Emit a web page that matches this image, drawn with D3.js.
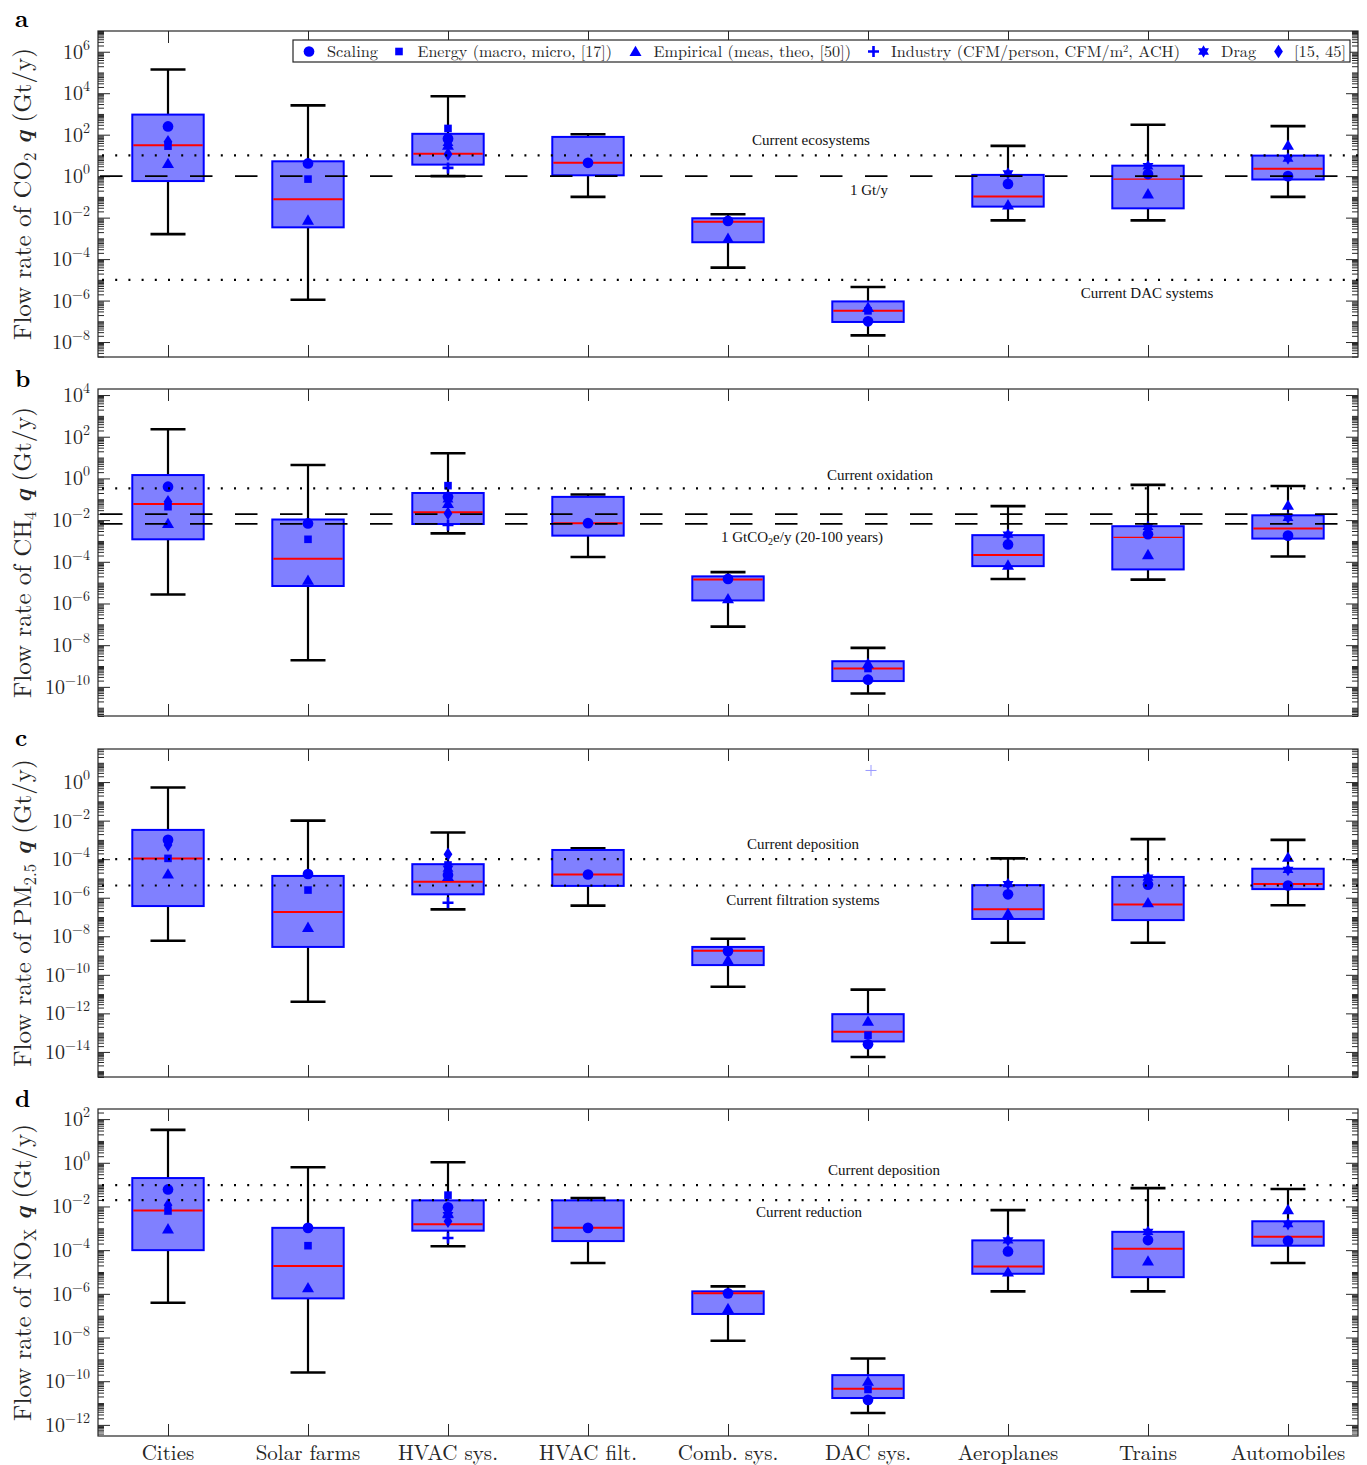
<!DOCTYPE html>
<html><head><meta charset="utf-8">
<script src="https://cdn.jsdelivr.net/npm/d3@7/dist/d3.min.js"></script>
<style>body{margin:0;background:#fff} svg{display:block}</style>
</head><body><svg id="chart" width="1367" height="1465"></svg>
<script>
// ---------------- DATA ----------------
const categories = ["Cities","Solar farms","HVAC sys.","HVAC filt.","Comb. sys.","DAC sys.","Aeroplanes","Trains","Automobiles"];
const methods = ["Scaling","Energy (macro, micro, [17])","Empirical (meas, theo, [50])","Industry (CFM/person, CFM/m\u00B2, ACH)","Drag","[15, 45]"];

// box stats per category: [whisker low, q1, median, q3, whisker high]  (Gt/y)
const co2Box = [
  [1.6e-3, 0.58, 31, 930, 1.4e5],
  [1.1e-6, 3.4e-3, 0.078, 5.2, 2600],
  [1.0, 3.6, 12, 110, 7100],
  [0.10, 1.1, 4.4, 78, 105],
  [3.9e-5, 6.5e-4, 6.3e-3, 9.3e-3, 0.0145],
  [2.1e-8, 9.3e-8, 3.2e-7, 9.1e-7, 4.5e-6],
  [7.4e-3, 0.034, 0.105, 1.15, 29],
  [7.4e-3, 0.028, 0.72, 3.2, 300],
  [0.10, 0.69, 2.3, 9.8, 260]
];
const co2Scaling   = [250, 4.1, 65, 4.4, 6.9e-3, 1.0e-7, 0.42, 1.26, 1.0];
const co2Energy    = [28, 0.72, 200, null, null, 3.2e-7, null, null, null];
const co2Empirical = [4.1, 7.6e-3, 31, null, 1.0e-3, 4.7e-7, 0.041, 0.14, 31];
const co2Industry  = [null, null, 2.5, null, null, null, null, null, null];
const co2Drag      = [null, null, 40, null, null, null, 1.35, 3.0, 7.1];
const co2Lit       = [45, null, 11.5, null, null, null, null, null, null];
const co2RefValues = [10, 1, 1e-5];
const co2RefLabels = ["Current ecosystems", "1 Gt/y", "Current DAC systems"];
const co2Domain = [1.9e-9, 1e7];
const co2TickLabels = [1e-8, 1e-6, 1e-4, 1e-2, 1e0, 1e2, 1e4, 1e6];

const ch4Box = [
  [2.7e-6, 1.2e-3, 0.059, 1.45, 230],
  [1.9e-9, 6.9e-6, 1.4e-4, 0.0107, 4.4],
  [2.3e-3, 6.5e-3, 0.024, 0.20, 16],
  [1.7e-4, 1.8e-3, 7.1e-3, 0.13, 0.17],
  [7.8e-8, 1.4e-6, 1.4e-5, 2.0e-5, 3.2e-5],
  [4.8e-11, 1.9e-10, 7.6e-10, 1.7e-9, 7.4e-9],
  [1.5e-5, 6.2e-5, 2.1e-4, 1.9e-3, 0.047],
  [1.4e-5, 4.3e-5, 1.5e-3, 5.1e-3, 0.49],
  [1.8e-4, 1.3e-3, 4.0e-3, 0.017, 0.43]
];
const ch4Scaling   = [0.40, 6.9e-3, 0.13, 7.1e-3, 1.5e-5, 2.2e-10, 6.8e-4, 2.1e-3, 1.8e-3];
const ch4Energy    = [0.044, 1.2e-3, 0.45, null, null, 7.6e-10, null, null, null];
const ch4Empirical = [6.9e-3, 1.3e-5, 0.063, null, 1.7e-6, 1.3e-9, 6.9e-5, 2.2e-4, 0.052];
const ch4Industry  = [null, null, 5.8e-3, null, null, null, null, null, null];
const ch4Drag      = [null, null, 0.10, null, null, null, 2.0e-3, 4.8e-3, 0.013];
const ch4Lit       = [0.076, null, 0.021, null, null, null, null, null, null];
const ch4RefValues = [0.33, 0.0195, 0.0066];
const ch4RefLabels = ["Current oxidation", "1 GtCO\u2082e/y (20-100 years)"];
const ch4Domain = [4.0e-12, 1.95e4];
const ch4TickLabels = [1e-10, 1e-8, 1e-6, 1e-4, 1e-2, 1e0, 1e2, 1e4];

const pmBox = [
  [5.9e-9, 3.7e-7, 1.1e-4, 3.3e-3, 0.52],
  [4.0e-12, 2.8e-9, 1.8e-7, 1.35e-5, 0.01],
  [2.5e-7, 1.5e-6, 6.8e-6, 5.5e-5, 2.4e-3],
  [3.9e-7, 4.1e-6, 1.6e-5, 3.0e-4, 3.7e-4],
  [2.4e-11, 3.2e-10, 1.8e-9, 2.8e-9, 7.4e-9],
  [5.5e-15, 3.5e-14, 1.1e-13, 9.1e-13, 1.7e-11],
  [4.6e-9, 7.9e-8, 2.5e-7, 4.5e-6, 1.1e-4],
  [4.6e-9, 6.9e-8, 4.4e-7, 1.2e-5, 1.1e-3],
  [4.1e-7, 2.8e-6, 5.1e-6, 3.2e-5, 1.0e-3]
];
const pmScaling   = [1.0e-3, 1.7e-5, 1.5e-5, 1.6e-5, 1.7e-9, 2.5e-14, 1.5e-6, 4.8e-6, 4.3e-6];
const pmEnergy    = [1.1e-4, 2.5e-6, 5.0e-5, null, null, 7.4e-14, null, null, null];
const pmEmpirical = [1.7e-5, 2.9e-8, 1.26e-5, null, 5.8e-10, 3.9e-13, 1.5e-7, 5.5e-7, 1.26e-4];
const pmIndustry  = [null, null, 5.5e-7, null, null, null, null, null, null];
const pmDrag      = [null, null, 3.2e-5, null, null, null, 5.1e-6, 1.1e-5, 2.8e-5];
const pmLit       = [5.5e-4, null, 1.8e-4, null, null, null, null, null, null];
const pmOutliers  = [null, null, null, null, null, 4.0, null, null, null];
const pmRefValues = [1e-4, 4.3e-6];
const pmRefLabels = ["Current deposition", "Current filtration systems"];
const pmDomain = [5.0e-16, 52];
const pmTickLabels = [1e-14, 1e-12, 1e-10, 1e-8, 1e-6, 1e-4, 1e-2, 1e0];

const noxBox = [
  [3.9e-7, 1.0e-4, 6.6e-3, 0.20, 32],
  [2.5e-10, 6.2e-7, 1.9e-5, 1.05e-3, 0.62],
  [1.5e-4, 7.8e-4, 1.55e-3, 0.019, 1.05],
  [2.6e-5, 2.6e-4, 1.05e-3, 0.019, 0.024],
  [7.1e-9, 1.2e-7, 1.05e-6, 1.3e-6, 2.2e-6],
  [3.5e-12, 1.7e-11, 4.5e-11, 1.9e-10, 1.1e-9],
  [1.3e-6, 8.3e-6, 1.8e-5, 2.8e-4, 6.8e-3],
  [1.3e-6, 5.8e-6, 1.15e-4, 6.9e-4, 0.069],
  [2.6e-5, 1.6e-4, 4.1e-4, 2.1e-3, 0.063]
];
const noxScaling   = [0.060, 1.05e-3, 9.1e-3, 1.05e-3, 1.05e-6, 1.4e-11, 8.7e-5, 2.9e-4, 2.7e-4];
const noxEnergy    = [6.2e-3, 1.6e-4, 0.033, null, null, 4.2e-11, null, null, null];
const noxEmpirical = [9.5e-4, 1.9e-6, 5.0e-3, null, 2.1e-7, 1.0e-10, 1.0e-5, 3.2e-5, 7.2e-3];
const noxIndustry  = [null, null, 3.6e-4, null, null, null, null, null, null];
const noxDrag      = [null, null, 4.0e-3, null, null, null, 2.8e-4, 6.9e-4, 1.55e-3];
const noxLit       = [0.0115, null, 2.1e-3, null, null, null, null, null, null];
const noxRefValues = [0.095, 0.0195];
const noxRefLabels = ["Current deposition", "Current reduction"];
const noxDomain = [3.1e-13, 290];
const noxTickLabels = [1e-12, 1e-10, 1e-8, 1e-6, 1e-4, 1e-2, 1e0, 1e2];

// ---------------- DRAWING ----------------
const CM = "'Latin Modern Roman','CMU Serif','Liberation Serif','Times New Roman',serif";
const TIMES = "'Liberation Serif','Times New Roman',serif";
const AX = "#262626";
const BLUE = "#0000ff";
const svg = d3.select("#chart");
svg.append("rect").attr("width",1367).attr("height",1465).attr("fill","#fff");

const xLeft = 98, xRight = 1358;
const x = d3.scaleLinear().domain([0.5, 9.5]).range([xLeft, xRight]);

// marker path generators (centered at 0,0)
const shapes = {
  circle: () => d3.symbol(d3.symbolCircle, 90)(),
  square: () => "M-3.8,-3.8H3.8V3.8H-3.8Z",
  triangle: () => "M0,-5.8L6,4.6L-6,4.6Z",
  plus: () => "M-5.5,0H5.5M0,-5.5V5.5",
  hexagram: () => {
    const r = 6.3, pts = a => [0,1,2].map(i => { const t = (a + i*120) * Math.PI/180; return [r*Math.cos(t), r*Math.sin(t)]; });
    const tri = p => "M" + p.map(q => q[0].toFixed(2)+","+q[1].toFixed(2)).join("L") + "Z";
    return tri(pts(-90)) + tri(pts(90));
  },
  diamond: () => "M0,-6.8L4.4,0L0,6.8L-4.4,0Z"
};
const methodShapes = ["circle","square","triangle","plus","hexagram","diamond"];

function drawMarker(g, shape, cx, cy, color) {
  const p = g.append("path").attr("d", shapes[shape]()).attr("transform", `translate(${cx},${cy})`);
  if (shape === "plus") p.attr("fill","none").attr("stroke", color).attr("stroke-width", 2.6);
  else p.attr("fill", color);
  return p;
}

const panels = [
  {letter:"a", top:31, bottom:357, domain:co2Domain, ticks:co2TickLabels, box:co2Box,
   markers:[co2Scaling,co2Energy,co2Empirical,co2Industry,co2Drag,co2Lit],
   refs:co2RefValues, refStyles:["dot","dash","dot"], refLabels:co2RefLabels,
   labelPos:[[811,145],[869,195],[1147,298]],
   ylabel:[["Flow rate of CO"],["2","sub"],[" "],["q","bi"],[" (Gt/y)"]]},
  {letter:"b", top:389, bottom:716, domain:ch4Domain, ticks:ch4TickLabels, box:ch4Box,
   markers:[ch4Scaling,ch4Energy,ch4Empirical,ch4Industry,ch4Drag,ch4Lit],
   refs:ch4RefValues, refStyles:["dot","dash","dash"], refLabels:ch4RefLabels,
   labelPos:[[880,480],[802,542]],
   ylabel:[["Flow rate of CH"],["4","sub"],[" "],["q","bi"],[" (Gt/y)"]]},
  {letter:"c", top:749, bottom:1077, domain:pmDomain, ticks:pmTickLabels, box:pmBox,
   markers:[pmScaling,pmEnergy,pmEmpirical,pmIndustry,pmDrag,pmLit], outliers:pmOutliers,
   refs:pmRefValues, refStyles:["dot","dot"], refLabels:pmRefLabels,
   labelPos:[[803,849],[803,905]],
   ylabel:[["Flow rate of PM"],["2.5","sub"],[" "],["q","bi"],[" (Gt/y)"]]},
  {letter:"d", top:1109, bottom:1436, domain:noxDomain, ticks:noxTickLabels, box:noxBox,
   markers:[noxScaling,noxEnergy,noxEmpirical,noxIndustry,noxDrag,noxLit],
   refs:noxRefValues, refStyles:["dot","dot"], refLabels:noxRefLabels,
   labelPos:[[884,1175],[809,1217]],
   ylabel:[["Flow rate of NO"],["X","sub"],[" "],["q","bi"],[" (Gt/y)"]]}
];

const supMinus = e => (e < 0 ? "\u2212" : "") + Math.abs(e);

panels.forEach((P, pi) => {
  const y = d3.scaleLog().domain(P.domain).range([P.bottom, P.top]);
  const g = svg.append("g");

  // minor ticks
  const lo = Math.floor(Math.log10(P.domain[0])), hi = Math.ceil(Math.log10(P.domain[1]));
  const labeled = new Set(P.ticks.map(v => Math.round(Math.log10(v))));
  const minor = [];
  for (let e = lo; e <= hi; e++) for (let k = 1; k <= 9; k++) {
    if (k === 1 && labeled.has(e)) continue;
    const v = k * Math.pow(10, e);
    if (v >= P.domain[0] && v <= P.domain[1]) minor.push(v);
  }
  const minL = g.append("g").attr("transform",`translate(${xLeft},0)`)
    .call(d3.axisLeft(y).tickValues(minor).tickSize(-6).tickFormat(() => ""));
  const minR = g.append("g").attr("transform",`translate(${xRight},0)`)
    .call(d3.axisRight(y).tickValues(minor).tickSize(-6).tickFormat(() => ""));
  const majR = g.append("g").attr("transform",`translate(${xRight},0)`)
    .call(d3.axisRight(y).tickValues(P.ticks).tickSize(-12).tickFormat(() => ""));
  const majL = g.append("g").attr("transform",`translate(${xLeft},0)`)
    .call(d3.axisLeft(y).tickValues(P.ticks).tickSize(-12).tickFormat(() => ""));
  const xb = g.append("g").attr("transform",`translate(0,${P.bottom})`)
    .call(d3.axisBottom(x).tickValues(d3.range(1,10)).tickSize(-12).tickFormat(() => ""));
  const xt = g.append("g").attr("transform",`translate(0,${P.top})`)
    .call(d3.axisTop(x).tickValues(d3.range(1,10)).tickSize(-12).tickFormat(() => ""));
  [minL,minR,majR,majL,xb,xt].forEach(a => {
    a.select(".domain").remove();
    a.selectAll(".tick line").attr("stroke", AX).attr("stroke-width", 1);
  });
  // tick labels 10^n
  majL.selectAll(".tick text").each(function(d) {
    const t = d3.select(this);
    t.text(null).attr("x", -8).attr("y", 6.5).attr("dy", null)
      .attr("fill", AX).attr("font-family", CM).attr("font-size", 20).attr("text-anchor","end");
    t.append("tspan").text("10");
    t.append("tspan").attr("dy", -9).attr("font-size", 14).text(supMinus(Math.round(Math.log10(d))));
  });
  majL.attr("font-family", CM).attr("font-size", 20);

  // frame
  g.append("rect").attr("x", xLeft).attr("y", P.top).attr("width", xRight - xLeft).attr("height", P.bottom - P.top)
    .attr("fill","none").attr("stroke", AX).attr("stroke-width", 1.2);

  // boxes
  const bg = g.append("g");
  const halfBox = 0.255, halfCap = 0.125;
  P.box.forEach((b, i) => {
    const cx = x(i + 1);
    const [wl, q1, md, q3, wh] = b;
    bg.append("line").attr("x1", cx).attr("x2", cx).attr("y1", y(q3)).attr("y2", y(wh)).attr("stroke","#000").attr("stroke-width",2.2);
    bg.append("line").attr("x1", cx).attr("x2", cx).attr("y1", y(q1)).attr("y2", y(wl)).attr("stroke","#000").attr("stroke-width",2.2);
    [wl, wh].forEach(v => bg.append("line").attr("x1", x(i + 1 - halfCap)).attr("x2", x(i + 1 + halfCap))
      .attr("y1", y(v)).attr("y2", y(v)).attr("stroke","#000").attr("stroke-width",2.6));
    bg.append("rect").attr("x", x(i + 1 - halfBox)).attr("y", y(q3))
      .attr("width", x(i + 1 + halfBox) - x(i + 1 - halfBox)).attr("height", y(q1) - y(q3))
      .attr("fill", "rgb(128,128,255)").attr("stroke", BLUE).attr("stroke-width", 2);
    bg.append("line").attr("x1", x(i + 1 - halfBox) + 1).attr("x2", x(i + 1 + halfBox) - 1)
      .attr("y1", y(md)).attr("y2", y(md)).attr("stroke","#ff0000")
      .attr("stroke-width", (i === 7 && pi < 2) ? 1.2 : 2);
  });

  // markers
  const mg = g.append("g");
  P.markers.forEach((series, mi) => {
    series.forEach((v, i) => { if (v != null) drawMarker(mg, methodShapes[mi], x(i + 1), y(v), BLUE); });
  });
  if (P.outliers) P.outliers.forEach((v, i) => {
    if (v != null) mg.append("path").attr("d", "M-5.5,0H5.5M0,-5.5V5.5")
      .attr("transform", `translate(${x(i + 1) + 3},${y(v)})`).attr("fill","none")
      .attr("stroke","#9a9aff").attr("stroke-width",1);
  });

  // reference lines
  const rg = g.append("g");
  P.refs.forEach((v, ri) => {
    const dash = P.refStyles[ri] === "dash";
    rg.append("line").attr("x1", xLeft + (dash ? 2 : 4)).attr("x2", xRight).attr("y1", y(v)).attr("y2", y(v))
      .attr("stroke", "#000").attr("stroke-width", dash ? 1.8 : 2.2)
      .attr("stroke-dasharray", dash ? "22.5,22.5" : "2,11.2");
  });
  P.refLabels.forEach((txt, li) => {
    const t = rg.append("text").attr("x", P.labelPos[li][0]).attr("y", P.labelPos[li][1])
      .attr("text-anchor","middle").attr("font-family", TIMES).attr("font-size", 15).attr("fill","#111");
    if (txt.includes("\u2082")) {
      const [a, b] = txt.split("\u2082");
      t.append("tspan").text(a);
      t.append("tspan").attr("dy", 3).attr("font-size", 10).text("2");
      t.append("tspan").attr("dy", -3).text(b);
    } else t.text(txt);
  });

  // y label
  const cy = (P.top + P.bottom) / 2;
  const yl = g.append("text").attr("transform", `translate(31,${cy}) rotate(-90)`)
    .attr("text-anchor","middle").attr("font-family", CM).attr("font-size", 25).attr("fill", AX);
  let prevSub = false;
  P.ylabel.forEach(([s, kind]) => {
    const ts = yl.append("tspan").text(s);
    if (kind === "sub") { ts.attr("font-size", 17).attr("dy", 5); prevSub = true; }
    else {
      if (prevSub) { ts.attr("dy", -5); prevSub = false; }
      if (kind === "bi") ts.attr("font-weight","bold").attr("font-style","italic");
    }
  });

  // panel letter
  svg.append("text").attr("x", 15).attr("y", [27, 387, 746, 1107][pi]).text(P.letter)
    .attr("font-family", CM).attr("font-weight","bold").attr("font-size", 24).attr("fill","#000");
});

// category labels
svg.append("g").selectAll("text").data(categories).join("text")
  .attr("x", (d, i) => x(i + 1)).attr("y", 1460).attr("text-anchor","middle")
  .attr("font-family", CM).attr("font-size", 21).attr("fill", AX).text(d => d);

// legend
const lg = svg.append("g");
lg.append("rect").attr("x", 293).attr("y", 40).attr("width", 1057).attr("height", 22)
  .attr("fill","#fff").attr("stroke", AX).attr("stroke-width", 1.2);
const legMarkX = [309, 399, 635.5, 873.5, 1203.5, 1278.5];
const legTextX = [327, 417.5, 653.5, 891, 1221, 1294];
const legTextEnd = [378, 612, 851, 1180, 1256, 1346];
methods.forEach((m, i) => {
  drawMarker(lg, methodShapes[i], legMarkX[i], 51.5, BLUE);
  const t = lg.append("text").attr("x", legTextX[i]).attr("y", 56.5).attr("font-family", CM)
    .attr("font-size", 15.5).attr("fill", AX)
    .attr("textLength", legTextEnd[i] - legTextX[i]).attr("lengthAdjust","spacingAndGlyphs");
  if (m.includes("\u00B2")) {
    const [a, b] = m.split("\u00B2");
    t.append("tspan").text(a);
    t.append("tspan").attr("dy", -5).attr("font-size", 10).text("2");
    t.append("tspan").attr("dy", 5).text(b);
  } else t.text(m);
});
</script>
</body></html>
